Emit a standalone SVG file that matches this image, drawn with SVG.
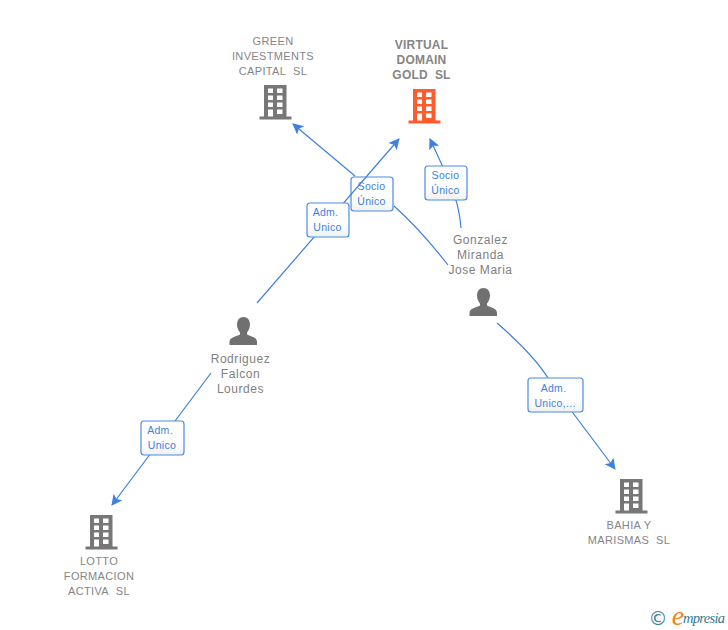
<svg xmlns="http://www.w3.org/2000/svg" width="728" height="630" viewBox="0 0 728 630">
<style>
text{font-family:"Liberation Sans",Arial,sans-serif;text-anchor:middle}
.n{font-size:11px;fill:#858585;letter-spacing:.35px}
.v{font-size:12px;font-weight:bold;fill:#858585;letter-spacing:.2px}
.p{font-size:12px;fill:#808080;letter-spacing:.55px}
.l{font-size:10.500px;fill:#3d7fdc;letter-spacing:.3px}
.c{fill:none;stroke:#3d80e0;stroke-width:1.2;marker-end:url(#a)}
.b{fill:url(#g);stroke:#4a8ce2;stroke-width:1.2}
</style>
<defs>
<linearGradient id="g" x1="0" y1="0" x2="0" y2="1"><stop offset="0" stop-color="#fff"/><stop offset="0.6" stop-color="#fff"/><stop offset="1" stop-color="#f1f1f1"/></linearGradient>
<marker id="a" markerUnits="userSpaceOnUse" markerWidth="12" markerHeight="12" refX="10" refY="5.500" orient="auto"><path d="M0 0L11 5.500L0 11L2.500 5.500Z" fill="#3d80e0"/></marker>
<symbol id="bld" overflow="visible"><path fill-rule="evenodd" d="M4.500 0H27V31.500H32V34.500H0V31.500H4.500ZM8.500 3.500V8H13.500V3.500ZM17.500 3.500V8H23V3.500ZM8.500 10.500V15H13.500V10.500ZM17.500 10.500V15H23V10.500ZM8.500 17.500V22H13.500V17.500ZM17.500 17.500V22H23V17.500ZM8.500 24.500V31.500H13.500V24.500ZM17.500 24.500V29H23V24.500Z"/></symbol>
<symbol id="per" overflow="visible"><path d="M14 0C18 0 20.500 3 20.500 7.500C20.500 11 19 13.500 17.500 15.500V17.500C21 19.500 27.500 20 27.500 25V28H0V25C0 20 7 19.500 10.500 17.500V15.500C9 13.500 7.500 11 7.500 7.500C7.500 3 10 0 14 0Z"/></symbol>
</defs>
<g id="label-socio-1"><rect class="b" x="351" y="177" width="42" height="34" rx="3"/><text class="l" x="371.500" y="190">Socio</text><text class="l" x="371.500" y="205">Único</text></g>
<g id="connectors">
<path class="c" d="M448 265C430 242 412 222 394 206M355 176L293 124"/>
<path class="c" d="M257 303L399 139"/>
<path class="c" d="M461 228C459 205 455 195 442 165L430 139"/>
<path class="c" d="M211 373L112 505"/>
<path class="c" d="M497 323C520 343 538 362 548 378L573 413L615 469"/>
</g>
<g id="edge-labels">
<g id="label-adm-1"><rect class="b" x="307" y="203" width="42" height="34" rx="3"/><text class="l" x="325.500" y="216">Adm.</text><text class="l" x="327.500" y="231">Unico</text></g>
<g id="label-socio-2"><rect class="b" x="425" y="166" width="42" height="34" rx="3"/><text class="l" x="445.500" y="179">Socio</text><text class="l" x="445.500" y="194">Único</text></g>
<g id="label-adm-2"><rect class="b" x="141" y="421" width="43" height="34" rx="3"/><text class="l" x="160" y="434">Adm.</text><text class="l" x="162" y="449">Unico</text></g>
<g id="label-adm-3"><rect class="b" x="528" y="378" width="55" height="34" rx="3"/><text class="l" x="553.500" y="392">Adm.</text><text class="l" x="555" y="407">Unico,...</text></g>
</g>
<g id="node-green"><text class="n" x="273" y="45">GREEN</text><text class="n" x="273" y="60">INVESTMENTS</text><text class="n" x="273" y="75">CAPITAL&#160;&#160;SL</text><use href="#bld" x="259.500" y="85" fill="#777"/></g>
<g id="node-virtual"><text class="v" x="421.500" y="49">VIRTUAL</text><text class="v" x="421.500" y="64">DOMAIN</text><text class="v" x="421.500" y="79">GOLD&#160;&#160;SL</text><use href="#bld" x="408.500" y="89" fill="#ff5c2e"/></g>
<g id="node-gonzalez"><text class="p" x="480.500" y="244">Gonzalez</text><text class="p" x="480.500" y="259">Miranda</text><text class="p" x="480.500" y="274">Jose Maria</text><use href="#per" x="469.500" y="288" fill="#707070"/></g>
<g id="node-rodriguez"><use href="#per" x="229.500" y="317" fill="#707070"/><text class="p" x="240.500" y="363">Rodriguez</text><text class="p" x="240.500" y="378">Falcon</text><text class="p" x="240.500" y="393">Lourdes</text></g>
<g id="node-lotto"><use href="#bld" x="85.500" y="515" fill="#777"/><text class="n" x="99" y="565">LOTTO</text><text class="n" x="99" y="580">FORMACION</text><text class="n" x="99" y="595">ACTIVA&#160;&#160;SL</text></g>
<g id="node-bahia"><use href="#bld" x="615.500" y="479" fill="#777"/><text class="n" x="629" y="529">BAHIA Y</text><text class="n" x="629" y="544">MARISMAS&#160;&#160;SL</text></g>
<g id="logo"><text x="658" y="625" style="font-size:19px;fill:#3f7f96;font-family:'DejaVu Sans',sans-serif">©</text><text x="678" y="625" style="font-size:28px;font-style:italic;fill:#f58220;font-family:'Liberation Serif',serif">e</text><text x="683" y="623" textLength="42" style="text-anchor:start;font-size:14.500px;font-style:italic;fill:#2f7c8f;font-family:'Liberation Serif',serif">mpresia</text></g>
</svg>
